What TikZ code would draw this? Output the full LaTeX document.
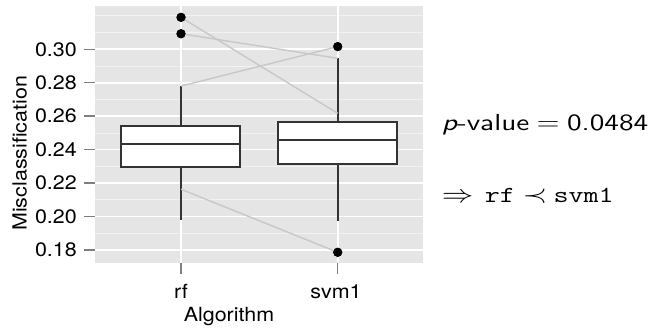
\documentclass[tikz,border=0pt]{standalone}
\usepackage{fontspec}
\newfontfamily\plotfont[FakeStretch=1.1]{TeX Gyre Heros}
\newfontfamily\rfont{lmsans10-regular.otf}[ItalicFont=lmsans10-oblique.otf]
\definecolor{panelbg}{RGB}{229,229,229}
\definecolor{minorgrid}{RGB}{242,242,242}
\definecolor{boxline}{RGB}{51,51,51}
\definecolor{tickgrey}{RGB}{127,127,127}
\definecolor{pairline}{RGB}{200,200,200}
\begin{document}
\begin{tikzpicture}[x=1pt,y=1pt,
  majorgrid/.style={white,line width=1.6pt},
  minorline/.style={minorgrid,line width=0.7pt},
  boxstyle/.style={draw=boxline,fill=white,line width=1.8pt},
  whisker/.style={boxline,line width=1.8pt},
  outlier/.style={circle,fill=black,inner sep=0pt,minimum size=9pt},
  pair/.style={pairline,line width=1.4pt},
  axtick/.style={tickgrey,line width=1.5pt},
  ticklabel/.style={font=\plotfont\fontsize{19.5}{22}\selectfont,inner sep=0pt},
  rtext/.style={inner sep=0pt,anchor=base west}]
\useasboundingbox (0,-328) rectangle (650,0);
\begin{scope}[yshift=-550.9pt,y=1672pt]
  % panel
  \fill[panelbg] (95,0.1722) rectangle (423,0.3259);
  \foreach \v in {0.19,0.21,0.23,0.25,0.27,0.29,0.31,0.32}
    \draw[minorline] (95,\v) -- (423,\v);
  \foreach \v in {0.18,0.20,0.22,0.24,0.26,0.28,0.30}
    \draw[majorgrid] (95,\v) -- (423,\v);
  \draw[majorgrid] (181,0.1722) -- (181,0.3259);
  \draw[majorgrid] (337.7,0.1722) -- (337.7,0.3259);
  % y ticks and labels
  \foreach \v/\n in {0.18/ya,0.20/yb,0.22/yc,0.24/yd,0.26/ye,0.28/yf,0.30/yg}{
    \draw[axtick] (84,\v) -- (95,\v);
    \node[ticklabel,anchor=east] (\n) at (77,\v) {\v};
  }
  % rf
  \coordinate (rfWlo) at (181,0.198);
  \coordinate (rfWhi) at (181,0.278);
  \coordinate (rfLow) at (181,0.2163);
  \draw[whisker] (rfWlo) -- (181,0.2298);
  \draw[whisker] (rfWhi) -- (181,0.2543);
  % svm1
  \coordinate (svWlo) at (337.7,0.1975);
  \coordinate (svWhi) at (337.7,0.2946);
  \coordinate (svMid) at (337.7,0.2617);
  \draw[whisker] (svWlo) -- (337.7,0.2312);
  \draw[whisker] (svWhi) -- (337.7,0.2565);
  % outliers
  \node[outlier] (rfO1) at (181,0.3191) {};
  \node[outlier] (rfO2) at (181,0.3093) {};
  \node[outlier] (svO1) at (337.7,0.3016) {};
  \node[outlier] (svO2) at (337.7,0.1786) {};
  % paired lines
  \draw[pair] (rfO1.center) -- (svMid);
  \draw[pair] (rfO2.center) -- (svWhi);
  \draw[pair] (rfWhi) -- (svO1.center);
  \draw[pair] (rfLow) -- (svO2.center);
  % dots on top of the lines
  \fill (rfO1) circle (4.6pt);
  \fill (rfO2) circle (4.6pt);
  \fill (svO1) circle (4.6pt);
  \fill (svO2) circle (4.6pt);
  % boxes
  \draw[boxstyle] (121,0.2298) rectangle (240,0.2543);
  \draw[whisker] (121,0.2432) -- (240,0.2432);
  \draw[boxstyle] (277.7,0.2312) rectangle (396.7,0.2565);
  \draw[whisker] (277.7,0.2459) -- (396.7,0.2459);
\end{scope}
% x ticks
\draw[axtick] (181,-263) -- (181,-274);
\draw[axtick] (337.7,-263) -- (337.7,-274);
\node[ticklabel,anchor=base] (xrf) at (181,-298.3) {rf};
\node[ticklabel,anchor=base] (xsvm) at (336,-298.3) {svm1};
\node[ticklabel,anchor=base] (xlab) at (229,-321.7) {Algorithm};
\node[ticklabel,anchor=base,rotate=90] (ylab) at (26.5,-153.3) {Misclassification};
% right text
\node[rtext] (pval) at (441.7,-130.7) {\scalebox{1.26}[1]{\rfont\fontsize{23.2}{27}\selectfont{\itshape p}-value\hspace{6pt}$=$\hspace{6pt}0.0484}};
\node[rtext] (concl) at (441.7,-202.3) {\scalebox{1.27}[1]{\rfont\fontsize{23}{27}\selectfont$\Rightarrow$\hspace{9pt}\texttt{rf}\hspace{6pt}$\prec$\hspace{5pt}\texttt{svm1}}};
\end{tikzpicture}
\end{document}
